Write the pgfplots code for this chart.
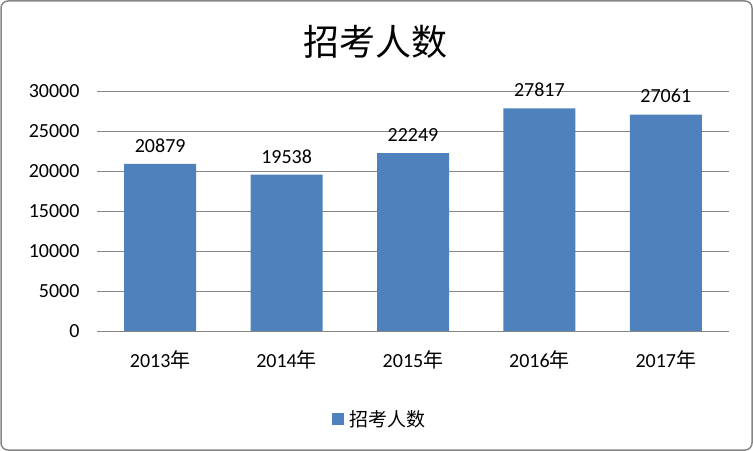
\documentclass[border=0pt]{standalone}
\usepackage{pgfplots}
\pgfplotsset{compat=1.18}
\usepackage{fontspec}
\setmainfont{Carlito}
\newfontfamily\cjk{Noto Sans CJK SC}
\definecolor{barblue}{HTML}{4F81BD}
\definecolor{framegray}{HTML}{868686}

\begin{document}
\begin{tikzpicture}
\useasboundingbox (0,0) rectangle (753bp,451bp);
\draw[framegray, line width=1.5bp, rounded corners=7bp] (1bp,1bp) rectangle (752bp,450bp);
\node[font={\cjk\fontsize{36bp}{40bp}\selectfont}] at (375bp,409bp) {招考人数};
\begin{axis}[
    at={(97bp,120bp)}, anchor=south west,
    scale only axis,
    width=632bp, height=240bp,
    ybar, bar width=72bp,
    xmin=-0.5, xmax=4.5,
    ymin=0, ymax=30000,
    ytick={0,5000,...,30000},
    xtick=data,
    xticklabels={2013{\cjk 年},2014{\cjk 年},2015{\cjk 年},2016{\cjk 年},2017{\cjk 年}},
    scaled y ticks=false,
    /pgf/number format/.cd, 1000 sep={}, assume math mode=true, /pgfplots/.cd,
    ymajorgrids,
    grid style={framegray, line width=0.8bp},
    axis line style={draw=none},
    major tick length=0pt,
    tick label style={font=\fontsize{20bp}{23bp}\selectfont},
    yticklabel style={xshift=-14bp},
    xticklabel style={yshift=-16bp},
    nodes near coords,
    every node near coord/.append style={font=\fontsize{20bp}{23bp}\selectfont, anchor=south, yshift=8bp},
    legend style={at={(0.447,-0.367)}, anchor=center, draw=none, fill=none,
        font={\cjk\fontsize{19bp}{22bp}\selectfont}},
    legend image code/.code={\fill[barblue] (0bp,-6bp) rectangle (12bp,6bp); \path (16bp,0bp);},
]
\addplot[fill=barblue, draw=none] coordinates {(0,20879) (1,19538) (2,22249) (3,27817) (4,27061)};
\addlegendentry{招考人数}
\end{axis}
\end{tikzpicture}
\end{document}
